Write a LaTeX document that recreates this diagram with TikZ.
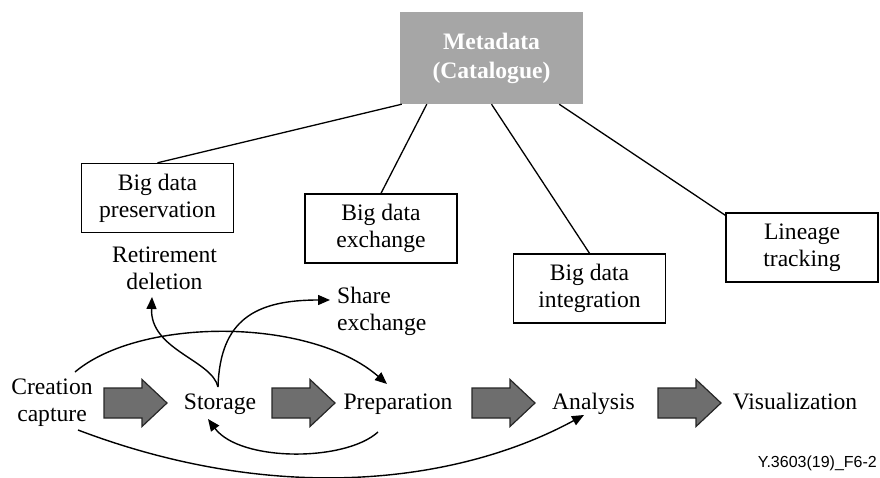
\documentclass[tikz,border=0pt]{standalone}
\usepackage{fontspec}
\setmainfont{Liberation Serif}
\newfontfamily\footfont{Liberation Sans}
\usetikzlibrary{arrows.meta}
\definecolor{metagray}{HTML}{A6A6A6}
\definecolor{arrgray}{HTML}{6E6E6E}
\definecolor{arredge}{HTML}{262626}
\tikzset{
  txt/.style={font=\fontsize{23.6}{27}\selectfont, inner sep=0pt, align=center},
  boxnode/.style={txt, draw, line width=1.4pt, minimum width=152pt, minimum height=69pt},
  metanode/.style={font=\fontsize{23.6}{29}\selectfont\bfseries, text=white, fill=metagray, inner sep=0pt,
     align=center, minimum width=183pt, minimum height=92pt},
  link/.style={line width=1.3pt},
  flow/.style={line width=1.4pt, -{Triangle[length=12pt,width=10pt]}},
  blockstyle/.style={fill=arrgray, draw=arredge, line width=1.2pt, line join=miter},
  pics/blockarr/.style={code={
    \draw[blockstyle] (0,-15) -- (38,-15) -- (38,-23.5) -- (63,0) -- (38,23.5) -- (38,15) -- (0,15) -- cycle;}}
}
\begin{document}
\begin{tikzpicture}[x=1pt,y=-1pt]
\useasboundingbox (0,0) rectangle (880,478);

% metadata and boxes
\node[metanode] (meta) at (491.5,58) {Metadata\\(Catalogue)};
\node[boxnode] (pres) at (157.5,198) {Big data\\preservation};
\node[boxnode] (exch) at (381,228.5) {Big data\\exchange};
\node[boxnode] (integ) at (589.5,288.5) {Big data\\integration};
\node[boxnode] (lin) at (802,247.5) {Lineage\\tracking};

\draw[link] ([xshift=2pt]meta.south west) -- (pres.north);
\draw[link] ([xshift=27pt]meta.south west) -- (exch.north);
\draw[link] (meta.south) -- (integ.north);
\draw[link] ([xshift=-24pt]meta.south east) -- ([yshift=-3pt]lin.north west);

% lifecycle texts
\node[txt] (creation) at (52,403) {Creation\\capture};
\node[txt, anchor=base] (storage) at (220,409) {Storage};
\node[txt, anchor=base] (prep) at (398,409) {Preparation};
\node[txt, anchor=base] (analysis) at (593.5,409) {Analysis};
\node[txt, anchor=base] (visual) at (795,409) {Visualization};
\node[txt] (retire) at (164.5,268.5) {Retirement\\deletion};
\node[txt, align=left, anchor=west] (share) at (337,311) {Share\\exchange};

% block arrows
\pic at (104,403) {blockarr};
\pic at (272,403) {blockarr};
\pic at (472,403) {blockarr};
\pic at (658,403) {blockarr};

% curved connectors
\draw[flow] ([shift={(23,-31)}]creation.center) .. controls +(65,-55) and +(-77,-67) .. ([shift={(-11,-25)}]prep.base);
\draw[flow] ([shift={(26,27)}]creation.center) .. controls +(200,76) and +(-125,68) .. ([shift={(-9.5,6)}]analysis.base);
\draw[flow] ([shift={(-20,23)}]prep.base) .. controls +(-33,30) and +(32,43) .. ([shift={(-12,10)}]storage.base);
\draw[flow] ([shift={(-2,-22)}]storage.base) .. controls +(-6,-27) and +(-2,53) .. ([shift={(-12.5,28.5)}]retire.center);
\draw[flow] ([shift={(-2,-22)}]storage.base) .. controls +(2,-67) and +(-75,0) .. ([shift={(-7,-11)}]share.west);

% footer
\node[font=\footfont\fontsize{16}{18}\selectfont, inner sep=0pt, anchor=east] (foot) at (877,463) {Y.3603(19)\_F6-2};
\end{tikzpicture}
\end{document}
